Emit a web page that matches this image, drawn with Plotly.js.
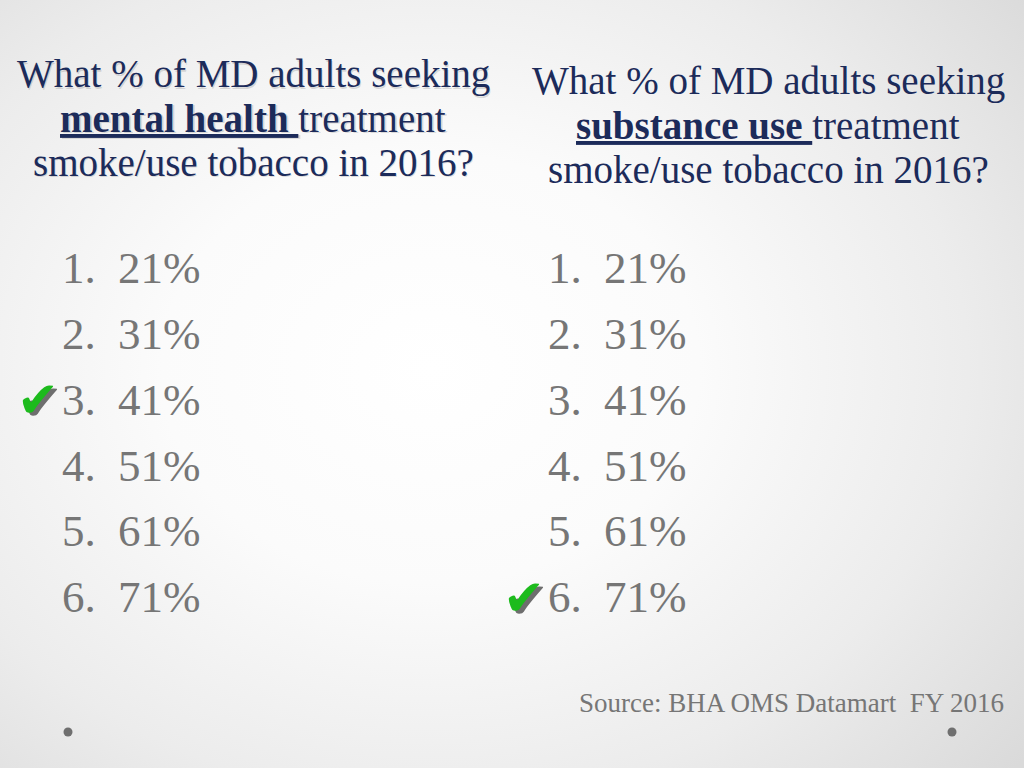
<!DOCTYPE html>
<html>
<head>
<meta charset="utf-8">
<script src="https://cdn.plot.ly/plotly-3.0.1.min.js"></script>
<style>
  html, body { margin: 0; padding: 0; }
  body {
    width: 1024px; height: 768px; overflow: hidden;
    background: radial-gradient(ellipse 75% 80% at 42% 48%, #ffffff 0%, #fbfbfb 35%, #ececec 70%, #dadada 100%);
  }
  #chart { width: 1024px; height: 768px; }
</style>
</head>
<body>
<div id="chart"></div>
<script>
// ---- data ----
const questionTopics = ['mental health', 'substance use'];
const optionNumbers = ['1.', '2.', '3.', '4.', '5.', '6.'];
const optionValues = [21, 31, 41, 51, 61, 71];
const correctIndex = [2, 5];
const sourceText = 'Source: BHA OMS Datamart  FY 2016';

// ---- layout constants ----
const W = 1024, H = 768;
const colX = [62, 548];
const valOffset = 56;
const rowY0 = 272, rowStep = 65.8;
const titleX = [253, 768];
const titleLineY0 = [74, 81];
const titleLineStep = 44;
const navy = '#1c2b5a';
const grey = '#767676';
const serif = 'Liberation Serif';

const traces = [];
questionTopics.forEach((t, c) => {
  const ys = optionNumbers.map((_, i) => rowY0 + i * rowStep);
  traces.push({
    type: 'scatter', mode: 'text', hoverinfo: 'skip', showlegend: false,
    x: optionNumbers.map(() => colX[c]), y: ys,
    text: optionNumbers, textposition: 'middle right',
    textfont: {family: serif, size: 45, color: grey}
  });
  traces.push({
    type: 'scatter', mode: 'text', hoverinfo: 'skip', showlegend: false,
    x: optionValues.map(() => colX[c] + valOffset), y: ys,
    text: optionValues.map(v => v + '%'), textposition: 'middle right',
    textfont: {family: serif, size: 45, color: grey}
  });
  const cy = rowY0 + correctIndex[c] * rowStep;
  // checkmark shadow
  traces.push({
    type: 'scatter', mode: 'text', hoverinfo: 'skip', showlegend: false,
    x: [colX[c] - 20], y: [cy + 4],
    text: ['\u2714'], textposition: 'middle center',
    textfont: {family: 'DejaVu Sans', size: 50, color: '#6e6e6e'}
  });
  traces.push({
    type: 'scatter', mode: 'text', hoverinfo: 'skip', showlegend: false,
    x: [colX[c] - 24], y: [cy + 1],
    text: ['\u2714'], textposition: 'middle center',
    textfont: {family: 'DejaVu Sans', size: 50, color: '#1dbb1d'}
  });
});
// slide corner dots
traces.push({
  type: 'scatter', mode: 'markers', hoverinfo: 'skip', showlegend: false,
  x: [68, 952], y: [732, 732],
  marker: {size: 9, color: '#6f6f6f'}
});

const annotations = [];
questionTopics.forEach((t, c) => {
  const lines = [
    'What % of MD adults seeking',
    '<b><u>' + t + ' </u></b>treatment',
    'smoke/use tobacco in 2016?'
  ];
  lines.forEach((ln, k) => {
    const y = titleLineY0[c] + k * titleLineStep;
    if (c === 0) {
      annotations.push({
        xref: 'x', yref: 'y', x: titleX[c] + 1.5, y: y + 1.5, text: ln,
        showarrow: false, xanchor: 'center', yanchor: 'middle', align: 'center',
        font: {family: serif, size: 39, color: 'rgba(0,0,0,0.12)'}
      });
    }
    annotations.push({
      xref: 'x', yref: 'y', x: titleX[c], y: y, text: ln,
      showarrow: false, xanchor: 'center', yanchor: 'middle', align: 'center',
      font: {family: serif, size: 39, color: navy}
    });
  });
});
annotations.push({
  xref: 'x', yref: 'y', x: 1006, y: 703, text: sourceText,
  showarrow: false, xanchor: 'right', yanchor: 'middle',
  font: {family: serif, size: 27, color: grey}
});

const layout = {
  width: W, height: H,
  margin: {l: 0, r: 0, t: 0, b: 0, pad: 0},
  paper_bgcolor: 'rgba(0,0,0,0)', plot_bgcolor: 'rgba(0,0,0,0)',
  xaxis: {range: [0, W], visible: false, fixedrange: true},
  yaxis: {range: [H, 0], visible: false, fixedrange: true},
  annotations: annotations,
  showlegend: false
};
Plotly.newPlot('chart', traces, layout, {staticPlot: true, displayModeBar: false});
</script>
</body>
</html>
